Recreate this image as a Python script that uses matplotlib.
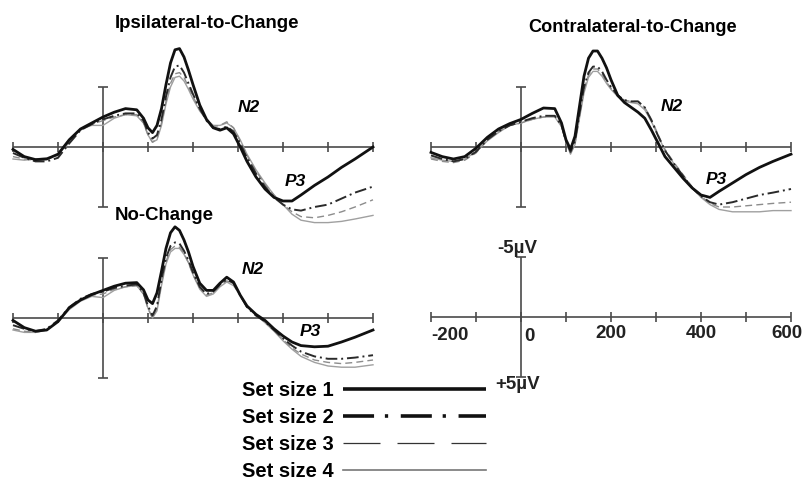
import numpy as np
import matplotlib.pyplot as plt
from matplotlib.lines import Line2D

plt.rcParams['font.family'] = ['Liberation Sans', 'DejaVu Sans']
plt.rcParams['font.weight'] = 'bold'

W, H = 804, 483   # figure size in px

# sample times (ms) shared by every waveform
times = [-200, -175, -150, -125, -100, -75, -50, -25, 0, 25, 50, 75,
         90, 100, 110, 120, 130, 140, 150, 160, 170, 180, 190, 200,
         215, 230, 245, 260, 275, 290, 305, 320,
         340, 360, 380, 400, 420, 440,
         470, 500, 530, 560, 600]

# waveforms in microvolts (negative plotted up)
ipsi_1 = [0.2, 0.8, 1.05, 1.0, 0.6, -0.6, -1.5, -2.0, -2.5, -2.9, -3.2, -3.1,
          -2.4, -1.6, -1.2, -1.8, -3.2, -5.2, -7.0, -8.1, -8.2, -7.5, -6.4, -5.2,
          -3.5, -2.3, -1.6, -1.4, -1.6, -1.1, 0.0, 1.2,
          2.5, 3.5, 4.2, 4.5, 4.5, 4.0,
          3.2, 2.5, 1.7, 1.0, 0.0]
ipsi_2 = [0.5, 0.9, 1.2, 1.2, 0.9, -0.3, -1.4, -1.9, -2.3, -2.6, -2.8, -2.8,
          -2.2, -1.2, -0.7, -1.0, -2.3, -4.2, -5.8, -6.7, -6.8, -6.2, -5.3, -4.4,
          -3.2, -2.2, -1.6, -1.5, -1.7, -1.3, -0.3, 0.9,
          2.2, 3.3, 4.2, 4.8, 5.2, 5.3,
          5.0, 4.8, 4.3, 3.8, 3.3]
ipsi_3 = [0.8, 1.0, 1.1, 1.0, 0.7, -0.4, -1.4, -1.9, -2.2, -2.5, -2.7, -2.7,
          -2.0, -1.0, -0.4, -0.7, -2.0, -3.8, -5.3, -6.1, -6.2, -5.8, -5.0, -4.2,
          -3.1, -2.2, -1.7, -1.8, -2.1, -1.6, -0.5, 0.7,
          2.0, 3.1, 4.0, 4.8, 5.4, 5.8,
          5.9, 5.7, 5.4, 5.0, 4.4]
ipsi_4 = [1.0, 1.1, 1.0, 0.9, 0.7, -0.5, -1.5, -1.8, -1.8, -2.4, -2.7, -2.6,
          -2.0, -1.0, -0.4, -0.6, -1.8, -3.6, -5.0, -5.8, -5.9, -5.5, -4.8, -4.0,
          -3.0, -2.3, -1.8, -1.8, -2.0, -1.6, -0.6, 0.6,
          1.9, 3.0, 4.0, 4.8, 5.6, 6.1,
          6.3, 6.3, 6.2, 6.0, 5.7]

contra_1 = [0.45, 0.8, 1.0, 0.8, 0.1, -0.8, -1.5, -1.95, -2.3, -2.8, -3.25, -3.2,
            -2.0, -0.6, 0.2, -0.9, -3.4, -5.9, -7.4, -8.0, -8.0, -7.4, -6.6, -5.6,
            -4.3, -3.7, -3.3, -2.9, -2.4, -1.4, -0.3, 0.8,
            1.7, 2.6, 3.4, 4.0, 4.2, 3.7,
            3.0, 2.3, 1.7, 1.2, 0.6]
contra_2 = [0.7, 1.0, 1.2, 1.0, 0.4, -0.6, -1.3, -1.8, -2.1, -2.4, -2.6, -2.6,
            -1.8, -0.5, 0.4, -0.5, -2.8, -5.0, -6.2, -6.7, -6.7, -6.3, -5.6, -5.0,
            -4.3, -3.9, -3.8, -3.8, -3.3, -2.2, -0.9, 0.3,
            1.4, 2.4, 3.4, 4.1, 4.6, 4.8,
            4.6, 4.3, 4.0, 3.8, 3.5]
contra_3 = [1.0, 1.2, 1.3, 1.1, 0.5, -0.6, -1.3, -1.8, -2.0, -2.3, -2.5, -2.6,
            -1.8, -0.4, 0.5, -0.3, -2.6, -4.8, -6.0, -6.5, -6.5, -6.1, -5.4, -4.9,
            -4.3, -3.9, -3.8, -3.8, -3.3, -2.3, -1.0, 0.2,
            1.3, 2.3, 3.3, 4.1, 4.7, 5.0,
            5.0, 4.9, 4.8, 4.7, 4.6]
contra_4 = [0.9, 1.1, 1.2, 1.0, 0.4, -0.5, -1.2, -1.8, -2.0, -2.3, -2.5, -2.5,
            -1.7, -0.4, 0.6, -0.2, -2.4, -4.5, -5.8, -6.3, -6.3, -5.9, -5.3, -4.8,
            -4.2, -3.8, -3.7, -3.6, -3.1, -2.1, -0.9, 0.3,
            1.4, 2.4, 3.4, 4.2, 4.8, 5.2,
            5.4, 5.4, 5.4, 5.3, 5.3]

nochange_1 = [0.2, 0.8, 1.1, 1.0, 0.3, -0.85, -1.5, -1.95, -2.3, -2.65, -2.9, -2.95,
              -2.35, -1.5, -1.2, -2.1, -3.9, -5.8, -7.1, -7.6, -7.3, -6.5, -5.5, -4.3,
              -2.9, -2.3, -2.3, -2.9, -3.4, -3.0, -1.9, -1.0,
              -0.3, 0.2, 0.9, 1.5, 2.0, 2.3,
              2.4, 2.35, 2.0, 1.6, 1.0]
nochange_2 = [0.6, 0.9, 1.1, 0.9, 0.2, -0.9, -1.6, -2.0, -2.2, -2.5, -2.7, -2.8,
              -2.1, -1.0, -0.2, -1.0, -3.2, -5.0, -6.0, -6.3, -6.2, -5.6, -4.8, -3.8,
              -2.6, -2.0, -2.2, -2.8, -3.2, -2.9, -1.9, -0.9,
              -0.2, 0.3, 1.0, 1.7, 2.3, 2.8,
              3.2, 3.4, 3.4, 3.3, 3.1]
nochange_3 = [0.9, 1.1, 1.2, 1.0, 0.3, -0.8, -1.5, -1.9, -2.0, -2.4, -2.6, -2.7,
              -2.0, -0.8, 0.0, -0.8, -2.9, -4.7, -5.7, -6.0, -5.9, -5.4, -4.6, -3.6,
              -2.5, -1.9, -2.1, -2.7, -3.1, -2.8, -1.9, -0.9,
              -0.3, 0.3, 1.0, 1.8, 2.5, 3.0,
              3.5, 3.7, 3.8, 3.7, 3.5]
nochange_4 = [1.0, 1.2, 1.2, 1.0, 0.3, -0.7, -1.4, -1.8, -1.7, -2.3, -2.6, -2.7,
              -2.0, -0.8, 0.0, -0.6, -2.7, -4.5, -5.5, -5.8, -5.8, -5.3, -4.6, -3.6,
              -2.4, -1.8, -2.0, -2.6, -3.0, -2.7, -1.9, -1.0,
              -0.3, 0.4, 1.1, 1.9, 2.6, 3.2,
              3.7, 4.0, 4.1, 4.1, 3.9]

tick_times = [-200, -100, 0, 100, 200, 300, 400, 500, 600]
scale_labels = ['-200', '0', '200', '400', '600']
set_labels = ['Set size 1', 'Set size 2', 'Set size 3', 'Set size 4']

axis_col = '#4a4a4a'
# style per set size: colour, width, dashes
styles = [dict(color='#111111', lw=2.0),
          dict(color='#2a2a2a', lw=1.4, dashes=(6, 2, 1, 2)),
          dict(color='#8c8c8c', lw=1.0, dashes=(5, 3)),
          dict(color='#a0a0a0', lw=1.0)]

fig = plt.figure(figsize=(W / 100, H / 100), dpi=100)


def panel(left, axis_y):
    # -200..600 ms spans 360 px, 1 uV is 12 px, baseline at axis_y px from top
    bottom = H - (axis_y + 7 * 12)
    ax = fig.add_axes([left / W, bottom / H, 360 / W, 17 * 12 / H])
    ax.set_xlim(-200, 600)
    ax.set_ylim(7, -10)
    ax.axis('off')
    kw = dict(color=axis_col, lw=1.2, clip_on=False, solid_capstyle='butt')
    ax.plot([-200, 600], [0, 0], **kw)
    for t in tick_times:
        ax.plot([t, t], [-0.4, 0.4], **kw)
    ax.plot([0, 0], [-5, 5], **kw)
    ax.plot([-11, 11], [-5, -5], **kw)
    ax.plot([-11, 11], [5, 5], **kw)
    return ax


def waves(ax, series):
    for ys, st in reversed(list(zip(series, styles))):
        ax.plot(times, ys, clip_on=False, **st)


txt = dict(fontsize=12.5, fontweight='bold', style='italic', ha='center', va='center')

ax1 = panel(13, 147)
waves(ax1, [ipsi_1, ipsi_2, ipsi_3, ipsi_4])
ax1.text(324, -3.25, 'N2', **txt)
ax1.text(427, 2.9, 'P3', **txt)

ax2 = panel(431, 147)
waves(ax2, [contra_1, contra_2, contra_3, contra_4])
ax2.text(334, -3.4, 'N2', **txt)
ax2.text(434, 2.75, 'P3', **txt)

ax3 = panel(13, 318)
waves(ax3, [nochange_1, nochange_2, nochange_3, nochange_4])
ax3.text(333, -4.0, 'N2', **txt)
ax3.text(461, 1.15, 'P3', **txt)

# calibration panel
ax4 = panel(431, 317)
lab = dict(fontsize=13.5, fontweight='bold', color='#222222', va='center')
for s in scale_labels:
    t = int(s)
    if t == -200:
        ax4.text(t + 1, 1.5, s, ha='left', **lab)
    elif t == 0:
        ax4.text(t + 8, 1.6, s, ha='left', **lab)
    elif t == 600:
        ax4.text(625, 1.35, s, ha='right', **lab)
    else:
        ax4.text(t, 1.35, s, ha='center', **lab)
ax4.text(-8, -5.7, '-5\u00b5V', ha='center', **lab)
ax4.text(-8, 5.6, '+5\u00b5V', ha='center', **lab)

# titles
tkw = dict(fontsize=13.4, fontweight='bold', va='center')
fig.text(115 / W, 1 - 23 / H, 'Ipsilateral-to-Change', **tkw)
fig.text(528 / W, 1 - 28 / H, 'Contralateral-to-Change', fontsize=13.1, fontweight='bold', va='center')
fig.text(115 / W, 1 - 215 / H, 'No-Change', **tkw)

# legend (label on the left of its line)
handles = [Line2D([], [], color='#111111', lw=2.6, solid_capstyle='butt'),
           Line2D([], [], color='#111111', lw=2.6, dashes=(8.6, 3.0, 0.9, 3.5), dash_capstyle='butt'),
           Line2D([], [], color='#333333', lw=0.9, dashes=(29.6, 13.6)),
           Line2D([], [], color='#777777', lw=1.2)]
fig.legend(handles, set_labels, loc='upper left', bbox_to_anchor=(242 / W, 1 - 381 / H),
           markerfirst=False, frameon=False, handlelength=7.1, handletextpad=0.45,
           labelspacing=0.40, borderpad=0, borderaxespad=0,
           prop=dict(family='Liberation Sans', weight='bold', size=14.5))

fig.savefig('out.png', dpi=100)
